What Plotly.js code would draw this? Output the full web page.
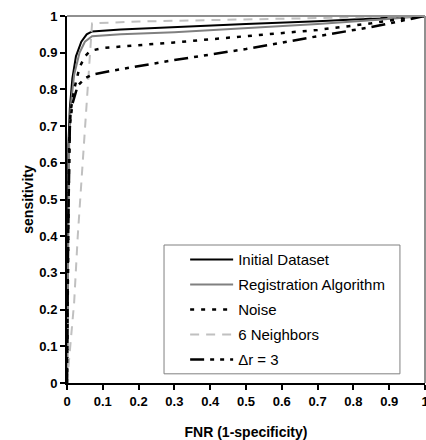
<!DOCTYPE html>
<html><head><meta charset="utf-8">
<script src="https://cdn.plot.ly/plotly-3.0.1.min.js"></script>
<style>html,body{margin:0;padding:0;background:#fff}#chart{width:426px;height:440px}
#chart .xtick text,#chart .ytick text{font-weight:bold !important}</style>
</head><body><div id="chart"></div>
<script>
const seriesNames = ["Initial Dataset", "Registration Algorithm", "Noise", "6 Neighbors", "\u0394r = 3"];

const tickValues = [0, 0.1, 0.2, 0.3, 0.4, 0.5, 0.6, 0.7, 0.8, 0.9, 1];
const tickLabels = ["0", "0.1", "0.2", "0.3", "0.4", "0.5", "0.6", "0.7", "0.8", "0.9", "1"];

const initialX = [0, 0.002, 0.004, 0.008, 0.015, 0.025, 0.04, 0.055, 0.07, 0.15, 0.3, 0.5, 0.7, 0.87, 0.95, 1];
const initialY = [0, 0.4, 0.65, 0.75, 0.83, 0.89, 0.93, 0.95, 0.958, 0.963, 0.97, 0.978, 0.986, 0.995, 0.998, 1];

const registrationX = [0, 0.003, 0.006, 0.01, 0.02, 0.035, 0.05, 0.07, 0.15, 0.3, 0.5, 0.7, 0.87, 0.95, 1];
const registrationY = [0, 0.45, 0.65, 0.75, 0.84, 0.9, 0.93, 0.945, 0.95, 0.956, 0.966, 0.978, 0.99, 0.997, 1];

const noiseX = [0, 0.003, 0.006, 0.01, 0.02, 0.035, 0.05, 0.065, 0.1, 0.3, 0.5, 0.7, 0.85, 0.95, 1];
const noiseY = [0, 0.45, 0.65, 0.74, 0.8, 0.86, 0.89, 0.905, 0.913, 0.928, 0.945, 0.962, 0.98, 0.995, 1];

const neighborsX = [0, 0.01, 0.02, 0.03, 0.04, 0.05, 0.06, 0.07, 0.2, 0.5, 0.8, 1];
const neighborsY = [0, 0.1, 0.22, 0.4, 0.55, 0.7, 0.85, 0.98, 0.985, 0.99, 0.995, 1];

const deltaX = [0, 0.003, 0.008, 0.015, 0.03, 0.05, 0.07, 0.12, 0.3, 0.5, 0.7, 0.85, 0.95, 1];
const deltaY = [0, 0.4, 0.7, 0.76, 0.81, 0.83, 0.84, 0.85, 0.88, 0.91, 0.945, 0.97, 0.99, 1];

const font = "Liberation Sans, Arial, sans-serif";

const traces = [
  {x: initialX, y: initialY, name: seriesNames[0], line: {color: "#000000", width: 2, dash: "solid"}},
  {x: registrationX, y: registrationY, name: seriesNames[1], line: {color: "#808080", width: 2, dash: "solid"}},
  {x: noiseX, y: noiseY, name: seriesNames[2], line: {color: "#000000", width: 2.5, dash: "4px,7px"}},
  {x: neighborsX, y: neighborsY, name: seriesNames[3], line: {color: "#c0c0c0", width: 2, dash: "9px,7px"}},
  {x: deltaX, y: deltaY, name: seriesNames[4], line: {color: "#000000", width: 2.5, dash: "14px,6px,4px,6px,4px,6px"}}
].map((t, i) => Object.assign({type: "scatter", mode: "lines", legendgroup: "g" + i}, t));

const axisCommon = {
  range: [0, 1], tickmode: "array", tickvals: tickValues, ticktext: tickLabels,
  showgrid: false, zeroline: false,
  showline: true, linecolor: "#000", linewidth: 2,
  ticks: "outside", ticklen: 5, tickwidth: 2, tickcolor: "#000",
  ticklabeloverflow: "allow",
  tickfont: {family: font, size: 13, color: "#000", weight: 700}
};

const layout = {
  width: 426, height: 440,
  margin: {l: 67, r: 1, t: 16, b: 57},
  paper_bgcolor: "#fff", plot_bgcolor: "#fff",
  font: {family: font, size: 13, color: "#000"},
  showlegend: true,
  legend: {
    x: 0.33, y: 0.381, xanchor: "left", yanchor: "top",
    bgcolor: "rgba(0,0,0,0)", borderwidth: 0,
    font: {family: font, size: 15, color: "#000"},
    itemwidth: 43, tracegroupgap: 2.5, traceorder: "grouped"
  },
  xaxis: Object.assign({}, axisCommon, {
    title: {text: "<b>FNR (1-specificity)</b>", font: {family: font, size: 14}, standoff: 20}
  }),
  yaxis: Object.assign({}, axisCommon, {
    title: {text: "<b>sensitivity</b>", font: {family: font, size: 14}, standoff: 2}
  }),
  shapes: [
    {type: "line", xref: "paper", yref: "paper", x0: 0, x1: 1, y0: 1, y1: 1, line: {color: "#909090", width: 2}},
    {type: "line", xref: "paper", yref: "paper", x0: 1, x1: 1, y0: 0, y1: 1, line: {color: "#909090", width: 2}},
    {type: "rect", xref: "paper", yref: "paper", x0: 0.271, x1: 0.93, y0: 0.025, y1: 0.376, line: {color: "#808080", width: 1}, fillcolor: "rgba(0,0,0,0)"}
  ]
};

Plotly.newPlot("chart", traces, layout, {staticPlot: true, displayModeBar: false});
</script></body></html>
